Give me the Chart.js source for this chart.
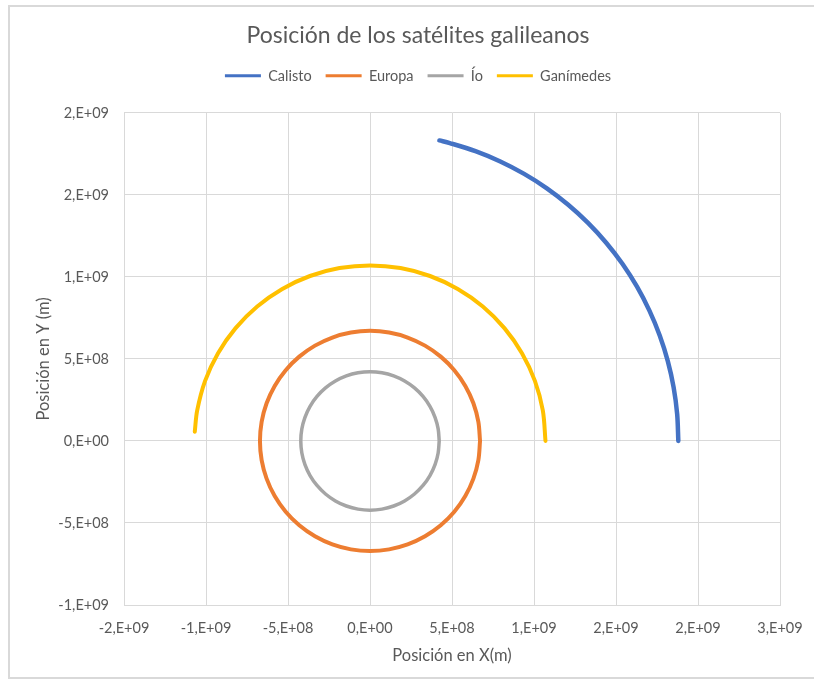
<!DOCTYPE html>
<html lang="es">
<head>
<meta charset="utf-8">
<title>Posición de los satélites galileanos</title>
<script src="https://cdn.jsdelivr.net/npm/chart.js@4/dist/chart.umd.min.js"></script>
<style>
  html, body { margin: 0; padding: 0; background: #ffffff; }
  #wrap { position: relative; width: 814px; height: 682px; overflow: hidden; }
  #frame {
    position: absolute; left: 8px; top: 5px; width: 900px; height: 670px;
    border-top: 2px solid #d9d9d9; border-left: 2px solid #d9d9d9; border-bottom: 2px solid #d9d9d9;
  }
  #chart { position: absolute; left: 0; top: 0; }
</style>
</head>
<body>
<div id="wrap">
  <div id="frame"></div>
  <canvas id="chart" width="814" height="682"></canvas>
</div>
<script>
// Orbital positions of the Galilean moons (metres)
const calistoX = [18.8e8, 18.729e8, 18.514e8, 18.159e8, 17.666e8, 17.038e8, 16.281e8, 15.401e8, 14.401e8,
  13.293e8, 12.085e8, 10.784e8, 9.4e8, 7.945e8, 6.43e8, 4.865e8, 4.23e8];
const calistoY = [0, 1.639e8, 3.264e8, 4.865e8, 6.43e8, 7.945e8, 9.4e8, 10.784e8, 12.085e8,
  13.293e8, 14.401e8, 15.401e8, 16.281e8, 17.038e8, 17.666e8, 18.159e8, 18.319e8];

const europaX = [6.71e8, 6.608e8, 6.305e8, 5.811e8, 5.14e8, 4.313e8, 3.355e8, 2.295e8, 1.165e8, 0,
  -1.165e8, -2.295e8, -3.355e8, -4.313e8, -5.14e8, -5.811e8, -6.305e8, -6.608e8, -6.71e8,
  -6.608e8, -6.305e8, -5.811e8, -5.14e8, -4.313e8, -3.355e8, -2.295e8, -1.165e8, 0,
  1.165e8, 2.295e8, 3.355e8, 4.313e8, 5.14e8, 5.811e8, 6.305e8, 6.608e8, 6.71e8];
const europaY = [0, 1.165e8, 2.295e8, 3.355e8, 4.313e8, 5.14e8, 5.811e8, 6.305e8, 6.608e8, 6.71e8,
  6.608e8, 6.305e8, 5.811e8, 5.14e8, 4.313e8, 3.355e8, 2.295e8, 1.165e8, 0,
  -1.165e8, -2.295e8, -3.355e8, -4.313e8, -5.14e8, -5.811e8, -6.305e8, -6.608e8, -6.71e8,
  -6.608e8, -6.305e8, -5.811e8, -5.14e8, -4.313e8, -3.355e8, -2.295e8, -1.165e8, 0];

const ioX = [4.22e8, 4.156e8, 3.966e8, 3.655e8, 3.233e8, 2.713e8, 2.11e8, 1.443e8, 0.733e8, 0,
  -0.733e8, -1.443e8, -2.11e8, -2.713e8, -3.233e8, -3.655e8, -3.966e8, -4.156e8, -4.22e8,
  -4.156e8, -3.966e8, -3.655e8, -3.233e8, -2.713e8, -2.11e8, -1.443e8, -0.733e8, 0,
  0.733e8, 1.443e8, 2.11e8, 2.713e8, 3.233e8, 3.655e8, 3.966e8, 4.156e8, 4.22e8];
const ioY = [0, 0.733e8, 1.443e8, 2.11e8, 2.713e8, 3.233e8, 3.655e8, 3.966e8, 4.156e8, 4.22e8,
  4.156e8, 3.966e8, 3.655e8, 3.233e8, 2.713e8, 2.11e8, 1.443e8, 0.733e8, 0,
  -0.733e8, -1.443e8, -2.11e8, -2.713e8, -3.233e8, -3.655e8, -3.966e8, -4.156e8, -4.22e8,
  -4.156e8, -3.966e8, -3.655e8, -3.233e8, -2.713e8, -2.11e8, -1.443e8, -0.733e8, 0];

const ganimedesX = [10.7e8, 10.537e8, 10.055e8, 9.266e8, 8.196e8, 6.878e8, 5.35e8, 3.659e8, 1.858e8, 0,
  -1.858e8, -3.659e8, -5.35e8, -6.878e8, -8.196e8, -9.266e8, -10.055e8, -10.537e8, -10.685e8];
const ganimedesY = [0, 1.858e8, 3.659e8, 5.35e8, 6.878e8, 8.196e8, 9.266e8, 10.055e8, 10.537e8, 10.7e8,
  10.537e8, 10.055e8, 9.266e8, 8.196e8, 6.878e8, 5.35e8, 3.659e8, 1.858e8, 0.56e8];

const seriesNames = ['Calisto', 'Europa', 'Ío', 'Ganímedes'];
const seriesColors = ['#4472C4', '#ED7D31', '#A5A5A5', '#FFC000'];
const seriesWidths = [4.5, 4, 3.5, 4];

const xMin = -1.5e9, xMax = 2.5e9, yMin = -1e9, yMax = 2e9, tickStep = 5e8;

function toPoints(xs, ys) {
  return xs.map((x, i) => ({ x: x, y: ys[i] }));
}

// Spreadsheet-style "0,E+00" number format
function sciLabel(v) {
  if (v === 0) return '0,E+00';
  const sign = v < 0 ? '-' : '';
  const a = Math.abs(v);
  let exp = Math.floor(Math.log10(a) + 1e-9);
  let mant = Math.round(a / Math.pow(10, exp) + 1e-9);
  if (mant >= 10) { mant = 1; exp += 1; }
  return sign + mant + ',E+' + String(exp).padStart(2, '0');
}

const seriesData = [
  toPoints(calistoX, calistoY),
  toPoints(europaX, europaY),
  toPoints(ioX, ioY),
  toPoints(ganimedesX, ganimedesY)
];

Chart.defaults.font.family = 'Lato, "Open Sans", sans-serif';
Chart.defaults.color = '#595959';

const textGrey = '#595959';
const gridGrey = '#d9d9d9';

new Chart(document.getElementById('chart'), {
  type: 'scatter',
  data: {
    datasets: seriesData.map((pts, i) => ({
      label: seriesNames[i],
      data: pts,
      showLine: true,
      borderColor: seriesColors[i],
      backgroundColor: seriesColors[i],
      borderWidth: seriesWidths[i],
      borderCapStyle: 'round',
      borderJoinStyle: 'round',
      pointRadius: 0,
      pointHoverRadius: 0,
      tension: 0.33,
      fill: false,
      xAxisID: 'x',
      yAxisID: 'y'
    }))
  },
  options: {
    responsive: false,
    animation: false,
    events: [],
    layout: { padding: { top: 12, left: 30, right: 8, bottom: 8 } },
    plugins: {
      title: {
        display: true,
        text: 'Posición de los satélites galileanos',
        color: textGrey,
        font: { size: 23, weight: 'normal' },
        padding: { top: 10, bottom: 5 }
      },
      legend: {
        display: true,
        position: 'top',
        labels: {
          color: textGrey,
          font: { size: 14.5 },
          usePointStyle: true,
          pointStyle: 'line',
          pointStyleWidth: 36,
          padding: 14,
          generateLabels(chart) {
            return chart.data.datasets.map((ds, i) => ({
              text: ds.label,
              fillStyle: ds.borderColor,
              strokeStyle: ds.borderColor,
              lineWidth: 3,
              pointStyle: 'line',
              fontColor: textGrey,
              hidden: false,
              datasetIndex: i
            }));
          }
        }
      },
      tooltip: { enabled: false }
    },
    scales: {
      x: {
        type: 'linear',
        position: 'bottom',
        min: xMin,
        max: xMax,
        ticks: {
          stepSize: tickStep,
          callback: (v) => sciLabel(v),
          color: textGrey,
          font: { size: 14.5 },
          padding: 0,
          maxRotation: 0,
          autoSkip: false
        },
        grid: { color: gridGrey, drawTicks: true, tickLength: 15, tickColor: 'rgba(0,0,0,0)' },
        border: { color: gridGrey },
        title: {
          display: true,
          text: 'Posición en X(m)',
          color: textGrey,
          font: { size: 16.5 },
          padding: { top: 0, bottom: 8 }
        },
        afterFit(scale) { scale.height = 69; }
      },
      xTop: {
        type: 'linear',
        position: 'top',
        display: true,
        grid: { display: false },
        ticks: { display: false },
        border: { display: false },
        afterFit(scale) { scale.height = 19.75; }
      },
      y: {
        type: 'linear',
        position: 'left',
        min: yMin,
        max: yMax,
        ticks: {
          stepSize: tickStep,
          callback: (v) => sciLabel(v),
          color: textGrey,
          font: { size: 14.5 },
          padding: 0
        },
        grid: { color: gridGrey, drawTicks: true, tickLength: 15, tickColor: 'rgba(0,0,0,0)' },
        border: { color: gridGrey },
        title: {
          display: true,
          text: 'Posición en Y (m)',
          color: textGrey,
          font: { size: 16.5 },
          padding: { top: 4, bottom: 0 }
        },
        afterFit(scale) { scale.width = 94; }
      },
      yRight: {
        type: 'linear',
        position: 'right',
        display: true,
        grid: { display: false },
        ticks: { display: false },
        border: { display: false },
        afterFit(scale) { scale.width = 26; }
      }
    }
  }
});
</script>
</body>
</html>
